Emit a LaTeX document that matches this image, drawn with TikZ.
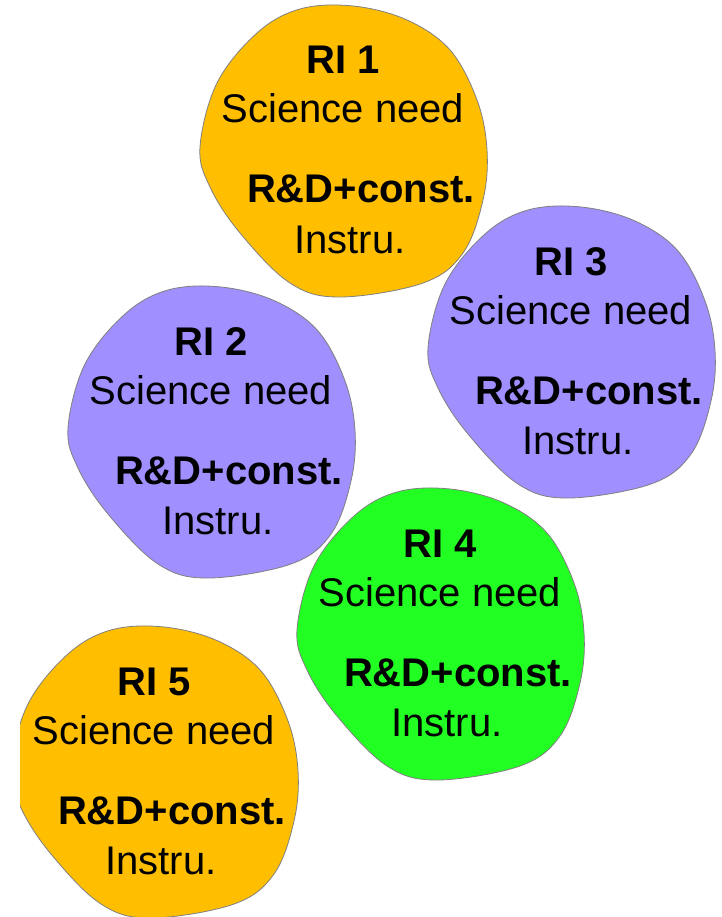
\documentclass[tikz,border=0pt]{standalone}
\usepackage{fontspec}
\setmainfont{Liberation Sans}
\usetikzlibrary{calc}
\definecolor{RIOrange}{HTML}{FFBF00}
\definecolor{RIPurple}{HTML}{9F8FFF}
\definecolor{RIGreen}{HTML}{22FF22}
\definecolor{Edge}{HTML}{808080}
\tikzset{blob/.style={draw=Edge,line width=.8pt},ritext/.style={anchor=base,inner sep=0pt,font=\fontsize{40}{48}\selectfont},rititle/.style={ritext,font=\fontsize{40}{48}\selectfont\bfseries}}
\begin{document}
\begin{tikzpicture}[x=1pt,y=-1pt]
  \useasboundingbox[fill=white](0,0)rectangle(721,917);
  \clip(20,0)rectangle(721,917);
  \foreach \n/\x/\y/\col in {1/343/152/RIOrange,2/211/433/RIPurple,3/571/353/RIPurple,4/440/635/RIGreen,5/154/773/RIOrange}{
    \coordinate(ri\n)at(\x,\y);
    \draw[blob,fill=\col,shift={(\x,\y)}]plot[smooth cycle,tension=.6]coordinates{(-143,-5)(-126,-69)(-86,-119)(-43,-143)(10,-146)(64,-132)(107,-102)(134,-52)(144,-2)(140,48)(120,101)(80,131)(-3,145)(-53,131)(-103,81)(-133,35)};
    \node[rititle](ri\n-name)at($(ri\n)+(0,-78)$){RI \n};
    \node[ritext](ri\n-need)at($(ri\n)+(0,-29)$){Science need};
    \node[rititle](ri\n-rd)at($(ri\n)+(18,51)$){R\&D+const.};
    \node[ritext](ri\n-instr)at($(ri\n)+(7,101)$){Instru.};
  }
\end{tikzpicture}
\end{document}
